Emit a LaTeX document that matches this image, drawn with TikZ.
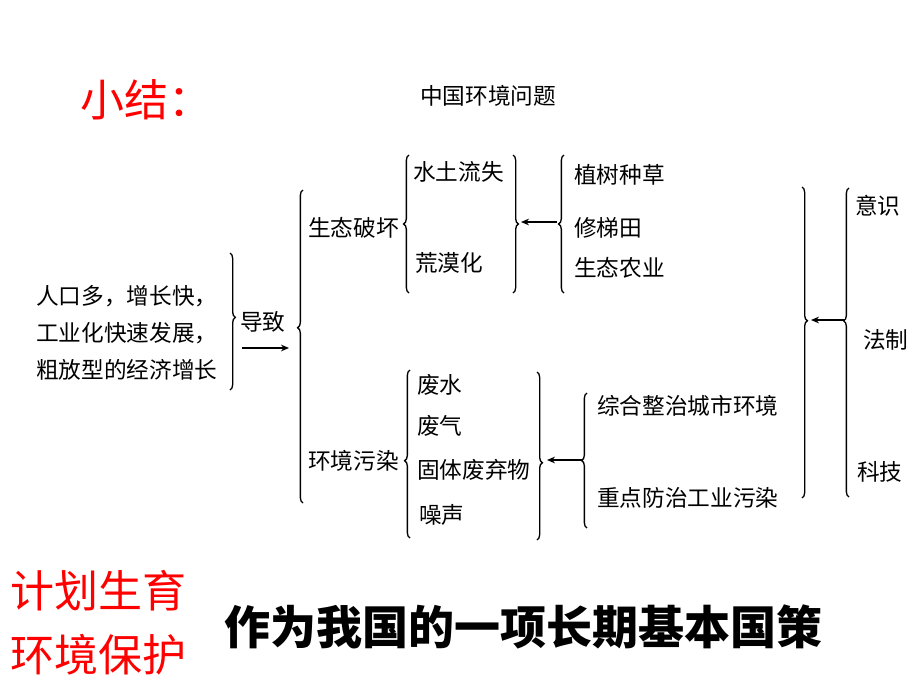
\documentclass[tikz,border=0pt]{standalone}
\usepackage{fontspec}
\setmainfont{Noto Sans CJK SC}
\usetikzlibrary{decorations.pathreplacing,arrows.meta}

\begin{document}
\begin{tikzpicture}[x=0.75pt,y=-0.75pt,
	txt/.style={anchor=west,inner sep=0pt,font=\fontsize{17}{20}\selectfont},
	curly/.style={line width=1pt,decorate,decoration={brace,amplitude=4pt,aspect=#1}},
	curly/.default=0.5,
	lead/.style={line width=1pt,-{Stealth[length=6pt,width=5pt]}}]
	%%%%% START %%%%%
	
	\fill[white] (0,0) rectangle (920,690);
	
	\node[red,font=\fontsize{33}{40}\selectfont] (summary) at (146,100) {小结：};
	\node[font=\fontsize{17}{20}\selectfont] (title) at (488,96) {中国环境问题};
	
	\node[txt,align=left,font=\fontsize{17}{27.5}\selectfont] (cause) at (36,333) {人口多，增长快，\\工业化快速发展，\\粗放型的经济增长};
	\draw[curly=0.47] (230,253) -- (230,390);
	\node[txt] (leadto) at (240,322) {导致};
	\coordinate (l1) at (242,348);
	\coordinate (l2) at (289,348);
	\draw[lead] (l1) -- (l2);
	
	\draw[curly=0.56] (303,503) -- (303,190);
	
	\node[txt] (eco) at (308,228) {生态破坏};
	\draw[curly] (409,293) -- (409,155);
	\node[txt] (soil) at (413,172) {水土流失};
	\node[txt] (desert) at (415,263) {荒漠化};
	\draw[curly] (513,155) -- (513,293);
	\coordinate (e1) at (557,222);
	\coordinate (e2) at (521,222);
	\draw[lead] (e1) -- (e2);
	\draw[curly] (564,293) -- (564,155);
	\node[txt] (tree) at (574,175) {植树种草};
	\node[txt] (terrace) at (574,228) {修梯田};
	\node[txt] (farm) at (574,268) {生态农业};
	
	\node[txt] (poll) at (308,461) {环境污染};
	\draw[curly=0.46] (410,538) -- (410,370);
	\node[txt] (water) at (417,385) {废水};
	\node[txt] (gas) at (417,426) {废气};
	\node[txt] (solid) at (417,470) {固体废弃物};
	\node[txt] (noise) at (419,515) {噪声};
	\draw[curly=0.54] (537,372) -- (537,540);
	\coordinate (p1) at (583,460);
	\coordinate (p2) at (547,460);
	\draw[lead] (p1) -- (p2);
	\draw[curly] (587,528) -- (587,393);
	\node[txt] (city) at (597,406) {综合整治城市环境};
	\node[txt] (industry) at (597,498) {重点防治工业污染};
	
	\draw[curly=0.43] (802,187) -- (802,498);
	\coordinate (m1) at (845,320);
	\coordinate (m2) at (811,320);
	\draw[lead] (m1) -- (m2);
	\draw[curly=0.57] (849,497) -- (849,188);
	\node[txt] (aware) at (855,206) {意识};
	\node[txt] (law) at (863,340) {法制};
	\node[txt] (tech) at (857,472) {科技};
	
	\node[red,anchor=west,inner sep=0pt,font=\fontsize{33}{40}\selectfont] (plan) at (10,591) {计划生育};
	\node[red,anchor=west,inner sep=0pt,font=\fontsize{33}{40}\selectfont] (protect) at (10,655) {环境保护};
	\node[anchor=west,inner sep=0pt,font=\fontsize{34.5}{40}\selectfont\bfseries] (policy) at (224,627) {作为我国的一项长期基本国策};
	
	%%%%% END %%%%%
\end{tikzpicture}
\end{document}
